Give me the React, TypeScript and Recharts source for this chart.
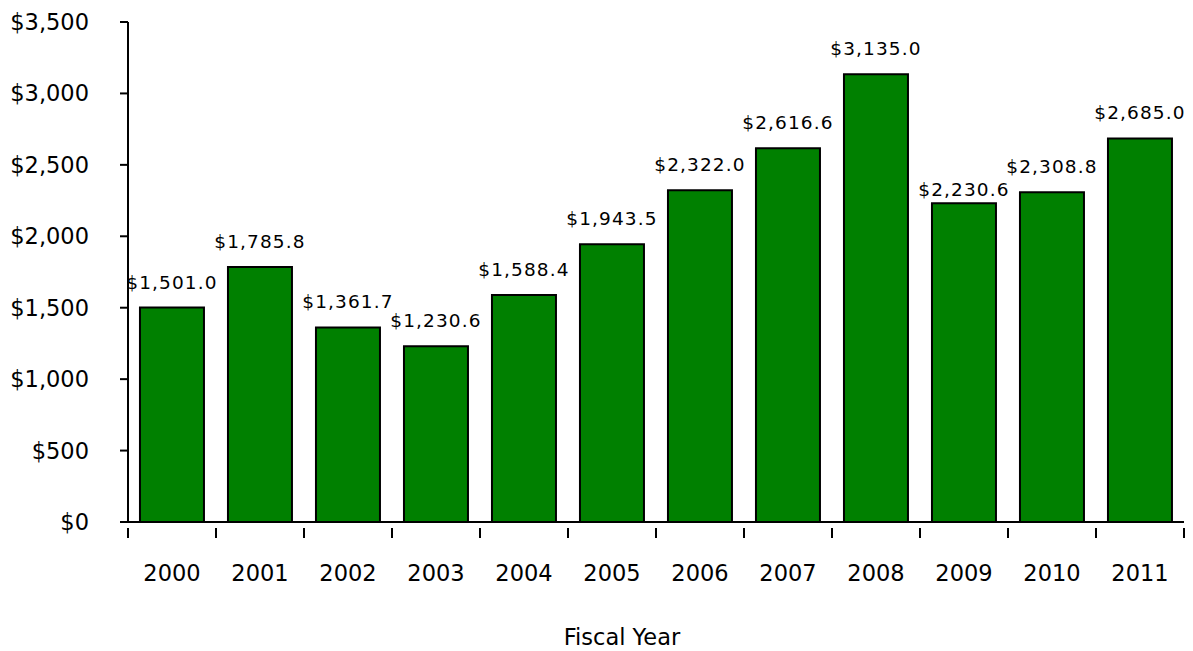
import React from "react"
import { BarChart, Bar, XAxis, YAxis, LabelList, Label } from "recharts"

const years = ["2000", "2001", "2002", "2003", "2004", "2005", "2006", "2007", "2008", "2009", "2010", "2011"]
const amounts = [1501.0, 1785.8, 1361.7, 1230.6, 1588.4, 1943.5, 2322.0, 2616.6, 3135.0, 2230.6, 2308.8, 2685.0]
const yTicks = [0, 500, 1000, 1500, 2000, 2500, 3000, 3500]

const W = 1193
const H = 651
const LEFT = 128
const RIGHT = 9
const FONT = "'DejaVu Sans', sans-serif"
const halfBand = (W - LEFT - RIGHT) / years.length / 2

const data = years.map((y, i) => ({ year: y, value: amounts[i] }))

const money = (v: number, digits = 0) =>
  "$" + v.toLocaleString("en-US", { minimumFractionDigits: digits, maximumFractionDigits: digits })

function YearTick(props: any) {
  const { x, y, payload, index } = props
  const last = index === years.length - 1
  return (
    <g>
      <line x1={x - halfBand} x2={x - halfBand} y1={y - 2} y2={y + 8} stroke="#000" strokeWidth={2} />
      {last && <line x1={x + halfBand} x2={x + halfBand} y1={y - 2} y2={y + 8} stroke="#000" strokeWidth={2} />}
      <text x={x} y={y + 51} textAnchor="middle" fontFamily={FONT} fontSize={22.5} fill="#000">
        {payload.value}
      </text>
    </g>
  )
}

// value above each bar; the 2009 label sits lower in the original (squeezed next to 2010)
function ValueLabel(props: any) {
  const { x, y, width, value, index } = props
  const gap = years[index] === "2009" ? 7 : 19
  return (
    <text
      x={x + width / 2}
      y={y - gap}
      textAnchor="middle"
      fontFamily={FONT}
      fontSize={18.5}
      letterSpacing={1.1}
      fill="#000"
    >
      {money(Number(value), 1)}
    </text>
  )
}

export default function App() {
  return (
    <div style={{ position: "absolute", left: 0, top: 0, background: "#fff" }}>
      <BarChart
        width={W}
        height={H}
        data={data}
        margin={{ top: 22, right: RIGHT, left: 0, bottom: 49 }}
        barCategoryGap="13.6%"
      >
        <YAxis
          width={LEFT}
          domain={[0, 3500]}
          ticks={yTicks}
          interval={0}
          tickFormatter={(v: number) => money(v)}
          axisLine={{ stroke: "#000", strokeWidth: 2 }}
          tickLine={{ stroke: "#000", strokeWidth: 2 }}
          tickSize={8}
          tickMargin={31}
          tick={{ fill: "#000", fontFamily: FONT, fontSize: 22.5 }}
        />
        <XAxis
          dataKey="year"
          height={80}
          interval={0}
          axisLine={{ stroke: "#000", strokeWidth: 2 }}
          tickLine={false}
          tick={<YearTick />}
        >
          <Label
            value="Fiscal Year"
            position="insideBottom"
            offset={-43}
            dx={-34}
            fill="#000"
            fontFamily={FONT}
            fontSize={22.5}
          />
        </XAxis>
        <Bar dataKey="value" fill="#008000" stroke="#000" strokeWidth={2} isAnimationActive={false}>
          <LabelList dataKey="value" content={<ValueLabel />} />
        </Bar>
      </BarChart>
    </div>
  )
}
